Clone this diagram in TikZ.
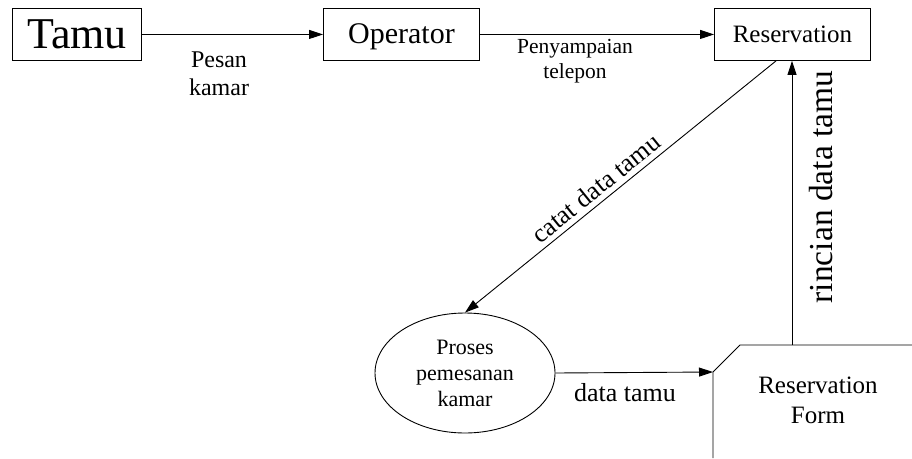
\documentclass[tikz,border=0pt]{standalone}
\usepackage{fontspec}
\setmainfont{Liberation Serif}
\usetikzlibrary{arrows.meta,shapes.geometric,calc}
\newcommand{\fsz}[2]{\fontsize{#1}{#2}\selectfont}
\begin{document}
\begin{tikzpicture}[x=1pt,y=-1pt,
  line width=0.9pt,
  flow/.style={draw=black,-{Triangle[length=14pt,width=9pt]}},
  ent/.style={draw=black,rectangle,inner sep=0pt,anchor=north west},
  lbl/.style={align=center,inner sep=0pt}]
\useasboundingbox (0,0) rectangle (912,458);
% entities
\node[ent,minimum width=129pt,minimum height=52pt,font=\fsz{44}{48}] (tamu) at (12,8) {Tamu};
\node[ent,minimum width=156pt,minimum height=52pt,font=\fsz{30}{34},text depth=2pt] (op) at (323,8) {Operator};
\node[ent,minimum width=156pt,minimum height=52pt,font=\fsz{25}{28}] (res) at (714,8) {Reservation};
% process
\node[draw=black,ellipse,minimum width=180pt,minimum height=120pt,inner sep=0pt,align=center,font=\fsz{22}{26}] (proc) at (465,373)
  {Proses\\pemesanan\\kamar};
% data store (form)
\coordinate (fcorner) at (713,372);
\coordinate (ftop) at (792,345);
\draw (713,458) -- (fcorner) -- (740,345) -- (912,345);
\node[lbl,font=\fsz{25}{30}] (formtxt) at (818,400) {Reservation\\Form};
% flows
\draw[flow] (tamu.east) -- (op.west);
\draw[flow] (op.east) -- (res.west);
\draw[flow] ([xshift=62pt]res.south west) -- node[above,sloped,inner sep=5pt,pos=0.55,font=\fsz{26}{30}]{catat data tamu} (proc.north);
\draw[flow] (proc.east) -- (fcorner);
\draw[flow] (ftop) -- (ftop |- res.south);
% labels
\node[lbl,font=\fsz{24}{28}] (l1) at (219,74) {Pesan\\kamar};
\node[lbl,font=\fsz{21.5}{25}] (l2) at (575,61) {Penyampaian\\telepon};
\node[lbl,font=\fsz{26}{30}] (l3) at (625,393) {data tamu};
\node[lbl,rotate=90,font=\fsz{33.5}{38}] (l4) at (821,187) {rincian data tamu};
\end{tikzpicture}
\end{document}
